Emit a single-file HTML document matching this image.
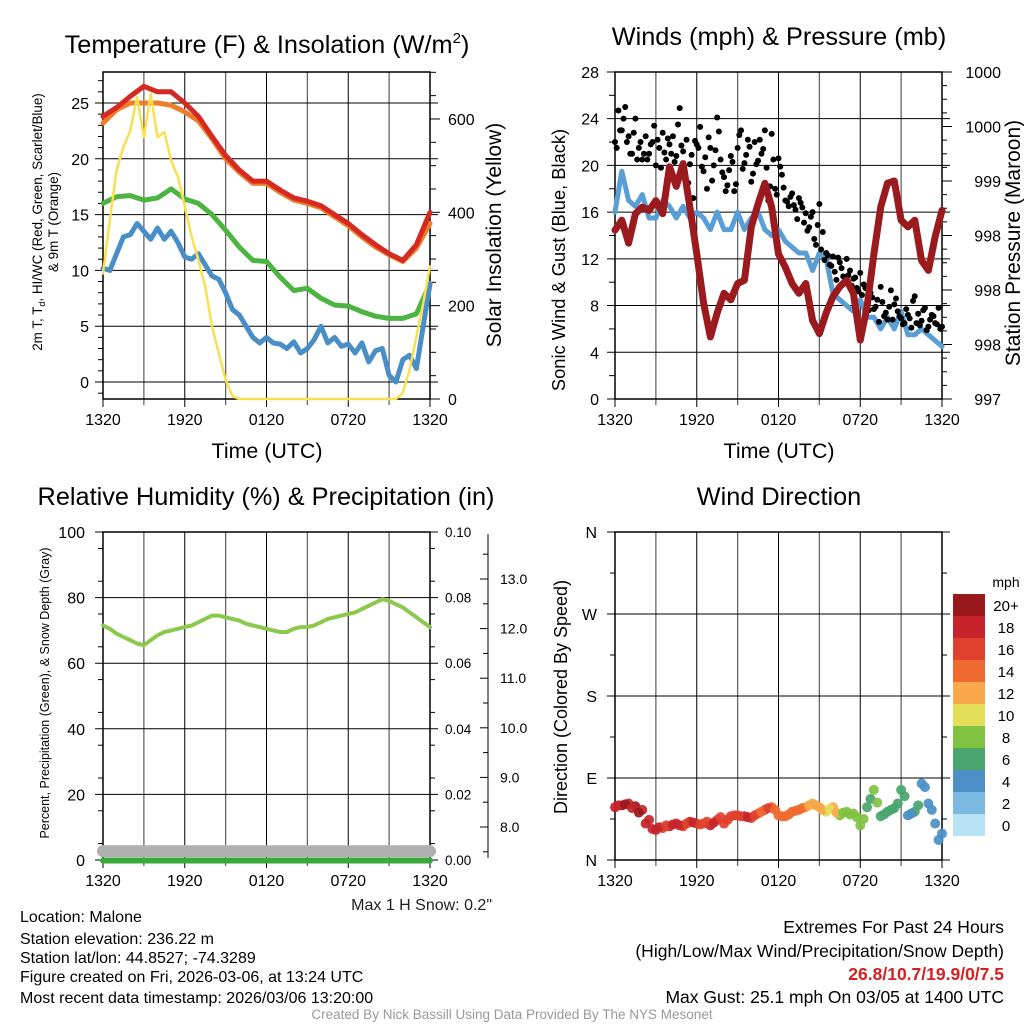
<!DOCTYPE html>
<html><head><meta charset="utf-8">
<style>
body{margin:0;background:#fff;}
svg{display:block;font-family:"Liberation Sans",Arial,sans-serif;}
</style></head>
<body>
<svg id="s" width="1024" height="1024" viewBox="0 0 1024 1024" xmlns="http://www.w3.org/2000/svg">
<rect width="1024" height="1024" fill="#fff"/>
<text x="267" y="53" font-size="25.3" text-anchor="middle">Temperature (F) &amp; Insolation (W/m<tspan font-size="15" dy="-10">2</tspan><tspan dy="10">)</tspan></text>
<text x="779" y="45" font-size="25.3" text-anchor="middle">Winds (mph) &amp; Pressure (mb)</text>
<text x="266" y="505" font-size="25.3" text-anchor="middle">Relative Humidity (%) &amp; Precipitation (in)</text>
<text x="779" y="505" font-size="25.3" text-anchor="middle">Wind Direction</text>

<text transform="translate(42,222) rotate(-90)" font-size="13.4" text-anchor="middle">2m T, T<tspan font-size="9" dy="3">d</tspan><tspan dy="-3">, HI/WC (Red, Green, Scarlet/Blue)</tspan></text>
<text transform="translate(58,222) rotate(-90)" font-size="13.4" text-anchor="middle">&amp; 9m T (Orange)</text>
<text transform="translate(501,235) rotate(-90)" font-size="21" text-anchor="middle">Solar Insolation (Yellow)</text>
<text transform="translate(565,260) rotate(-90)" font-size="18.3" text-anchor="middle">Sonic Wind &amp; Gust (Blue, Black)</text>
<text transform="translate(1020,243) rotate(-90)" font-size="21" text-anchor="middle">Station Pressure (Maroon)</text>
<text transform="translate(49,693) rotate(-90)" font-size="12.5" text-anchor="middle">Percent, Precipitation (Green), &amp; Snow Depth (Gray)</text>
<text transform="translate(567,697) rotate(-90)" font-size="18" text-anchor="middle">Direction (Colored By Speed)</text>
<text x="267" y="458" font-size="21.4" text-anchor="middle">Time (UTC)</text>
<text x="779" y="458" font-size="21.4" text-anchor="middle">Time (UTC)</text>
<text x="492" y="910" font-size="16" text-anchor="end" fill="#222">Max 1 H Snow: 0.2"</text>

<g font-size="16">
<text x="20" y="922">Location: Malone</text>
<text x="20" y="944">Station elevation: 236.22 m</text>
<text x="20" y="963">Station lat/lon: 44.8527; -74.3289</text>
<text x="20" y="982">Figure created on Fri, 2026-03-06, at 13:24 UTC</text>
<text x="20" y="1003">Most recent data timestamp: 2026/03/06 13:20:00</text>
</g>
<g font-size="17.5" text-anchor="end">
<text x="1004" y="933">Extremes For Past 24 Hours</text>
<text x="1004" y="957">(High/Low/Max Wind/Precipitation/Snow Depth)</text>
<text x="1004" y="980" fill="#d42020" font-weight="bold" font-size="17.5">26.8/10.7/19.9/0/7.5</text>
<text x="1004" y="1003">Max Gust: 25.1 mph On 03/05 at 1400 UTC</text>
</g>
<text x="512" y="1019" font-size="13.5" fill="#999" text-anchor="middle">Created By Nick Bassill Using Data Provided By The NYS Mesonet</text>
<g id="g"></g>
</svg>
<script>
// ---- data (hours since 1320 UTC) ----
const xTickLabels=["1320","1920","0120","0720","1320"];
const tempRed=[23.8,24.6,25.6,26.5,26.0,26.0,25.0,23.8,22.0,20.3,19.0,18.0,18.0,17.2,16.5,16.2,15.8,15.0,14.2,13.2,12.3,11.5,10.9,12.3,15.2];
const tempOrange=[23.2,24.4,25.0,25.0,25.0,24.8,24.2,23.4,21.8,20.0,18.8,17.8,17.8,17.0,16.3,16.0,15.6,14.8,14.0,13.0,12.1,11.4,10.8,12.0,14.2];
const dewGreen=[16.0,16.6,16.7,16.3,16.5,17.3,16.4,16.0,15.0,13.6,12.1,10.9,10.8,9.4,8.2,8.4,7.5,6.9,6.8,6.3,5.9,5.7,5.7,6.1,8.8];
const chillBlue=[10.2,10.0,11.5,13.0,13.2,14.2,13.5,12.8,13.8,12.8,13.5,12.5,11.2,11.0,11.5,10.5,9.5,9.2,8.0,6.5,6.0,5.0,4.0,3.5,4.0,3.5,3.4,3.0,3.6,2.6,3.0,3.8,5.0,3.5,4.0,3.2,3.4,2.6,3.5,1.8,2.8,3.0,0.6,0.0,2.0,2.4,1.2,5.0,8.8];
const insolation=[269,383,490,540,575,647,561,654,561,572,511,476,412,348,298,241,155,98,41,6,0,0,0,0,0,0,0,0,0,0,0,0,0,0,0,0,0,0,0,0,0,0,0,0,13,63,134,205,284];
const tempTicks=[0,5,10,15,20,25];
const insTicks=[0,200,400,600];
const windBlue=[16,19.5,17,16.5,17.5,15.5,15.5,17,16.5,15.5,16.5,15.5,16,15.5,14.5,16,14.5,14.5,16,14.5,15.5,16,14.5,14,14.5,13.5,13,12.5,12.5,11,12.5,12,9,8.5,8,7.5,8.5,7,7,6,7,6,7.5,5.5,5.5,6,5.5,5,4.5];
const gusts=[22,24.7,23,25,22.5,21,24,21.5,20.5,22.5,21,22,20,21.5,22.8,20.5,21.8,22.5,20.8,24.9,21.2,22.2,20.1,17.2,21.8,23.3,19.5,18,21.5,20,24.1,20.5,19,18.3,20.8,17.8,21.5,23,20.2,22.2,18.6,22,20.4,21,23,17,22.7,18,20.6,19.2,17,16.5,17.6,16.2,17.2,16.4,15.9,14.7,16,13.2,16.7,14.3,12.5,11.5,12.2,10.2,11.7,10.5,12,11,10.3,9.5,10.8,9.8,8.2,9.1,7.7,8.5,9.6,7.1,6.8,9.3,8.1,7.5,6.9,6.5,7.2,6.1,8.8,7.3,6.7,7.8,6.2,7.2,6.5,7.8,6.2];
const gusts2=[21.5,23,24,22,21,22.8,20.5,22,21,20.5,21.8,23.4,22.2,19.8,21.1,22.3,21,20.3,23.5,21.7,19.1,18.5,20.9,22.1,21.5,19.9,20.7,22.4,18.7,21.3,22.9,19.4,17.8,19.6,20.3,18.4,22.6,19.7,20.9,21.6,19.3,20.1,22.2,21.4,19.8,18.2,20.5,17.5,19.9,18.1,16.9,17.3,16.6,15.4,16.8,15.1,14.4,15.6,13.7,14.9,12.8,11.9,12.3,11.4,10.9,12.1,11.2,10.1,10.6,9.7,10.4,9.2,8.9,9.5,7.6,8.7,7.9,6.6,8.3,7.4,7.9,6.8,8.6,7.1,6.4,7.7,6.9,8.4,6.5,6.3,7.6,5.9,6.8,7.1,6.4,6.0];
const pressure=[998.55,998.64,998.43,998.70,998.76,998.73,998.82,998.70,999.13,998.95,999.16,998.76,998.33,997.88,997.57,997.79,997.97,997.91,998.06,998.09,998.58,998.79,998.98,998.76,998.33,998.21,998.06,997.97,998.06,997.72,997.60,997.79,997.94,998.03,998.09,997.97,997.54,997.85,998.33,998.76,998.98,999.0,998.64,998.58,998.64,998.27,998.18,998.49,998.73];
const windTicks=[0,4,8,12,16,20,24,28];
const presTickLabels=["997","998","998","998","999","1000","1000"];
const rh=[71.5,70.5,69,68,67,66,65.5,67,68.5,69.5,70,70.5,71,71.5,72.5,73.5,74.5,74.5,74,73.5,73,72,71.5,71,70.5,70,69.5,69.5,70.5,71,71,71.5,72.5,73.5,74,74.5,75,75.5,76.5,77.5,78.5,79.5,79,78,77,75.5,74,72.5,71];
const precip=[0,0,0,0,0,0,0,0,0,0,0,0,0,0,0,0,0,0,0,0,0,0,0,0,0];
const snowDepth=[2.7];
const rhTicks=[0,20,40,60,80,100];
const precipTickLabels=["0.00","0.02","0.04","0.06","0.08","0.10"];
const snowTickLabels=["8.0","9.0","10.0","11.0","12.0","13.0"];
const dirA=[58,60,62,59,55,44,33,35,37,40,37,42,40,40,38,44,40,48,49,48,46,51,55,58,49,48,53,55,58,62,58,53,58,49,53,51,38,58,77,48,53,57,77,49,53,84,62,40,29];
const dirB=[60,61,57,52,40,34,36,38,39,38,40,41,39,42,41,47,44,49,48,47,49,53,57,55,48,50,54,57,60,60,55,56,52,52,50,47,45,67,63,50,55,62,70,51,60,80,55,22];
const dirSpeed=[19,20,19,20,18,19,18,17,19,18,17,18,17,16,18,17,16,17,16,18,16,15,16,15,14,15,14,15,13,12,12,10,12,9,8,9,8,7,8,6,7,6,6,5,6,4,5,4,4];
const dirLabels=["N","E","S","W","N"];
const cbLabels=["0","2","4","6","8","10","12","14","16","18","20+"];
const cbColors=["#b8e3f7","#7cb9e2","#4a8fc6","#48a56e","#7fc242","#e4de58","#f8a84a","#ef6a30","#e0412e","#c6242a","#99191d"];

const NS="http://www.w3.org/2000/svg";
const G=document.getElementById('g');
function mk(tag,attrs,parent){const e=document.createElementNS(NS,tag);for(const k in attrs)e.setAttribute(k,attrs[k]);(parent||G).appendChild(e);return e;}
function txt(x,y,s,size,anchor,parent){const t=mk('text',{x:x,y:y,'font-size':size,'text-anchor':anchor||'middle'},parent);t.textContent=s;return t;}

function panelFrame(x0,x1,y0,y1,name){
  const g=mk('g',{});
  
  
  for(let i=0;i<=8;i++){const x=x0+(x1-x0)*i/8;
    mk('line',{x1:x,y1:y0,x2:x,y2:y1+(i%2==0?8:6),stroke:i%2?'#666':'#000','stroke-width':i%2?1.3:1},g);}
  xTickLabels.forEach((s,i)=>{const t=txt(x0+(x1-x0)*i/4,y1+26,s,16,'middle',g);
    
    });
  return g;
}
function hline(g,x0,x1,y){mk('line',{x1:x0-8,y1:y,x2:x1+8,y2:y,stroke:'#000','stroke-width':1},g);}
function path(pts,color,w,name,parent){const d=pts.map((p,i)=>(i?'L':'M')+p[0].toFixed(1)+','+p[1].toFixed(1)).join('');
  const e=mk('path',{d:d,fill:'none',stroke:color,'stroke-width':w,'stroke-linejoin':'round','stroke-linecap':'round'},parent);
  
  return e;}

// ---------- Panel 1 ----------
(function(){
 const x0=103,x1=430,y0=72,y1=399;
 const X=h=>x0+(x1-x0)*h/24, Y=v=>382-v*11.16, YI=w=>399-w*0.4667;
 const g=panelFrame(x0,x1,y0,y1,'temperature-panel');
 tempTicks.forEach(v=>{hline(g,x0,x1,Y(v));const t=txt(x0-14,Y(v)+6,String(v),16,'end',g);
   
   });
 for(let v=-1;v<=27;v++){if(v%5)mk('line',{x1:x0-5,y1:Y(v),x2:x0,y2:Y(v),stroke:'#000'},g);}
 insTicks.forEach(w=>{mk('line',{x1:x1,y1:YI(w),x2:x1+10,y2:YI(w),stroke:'#000'},g);const t=txt(x1+18,YI(w)+6,String(w),16,'start',g);
   
   });
 for(let w=50;w<=700;w+=50){if(w%200)mk('line',{x1:x1,y1:YI(w),x2:x1+6,y2:YI(w),stroke:'#000'},g);}
 mk('rect',{x:x0,y:y0,width:x1-x0,height:y1-y0,fill:'none',stroke:'#000','stroke-width':1.5},g);
 path(tempOrange.map((v,i)=>[X(i),Y(v)]),'#f07c2a',5,'series-9m-temp-orange',g);
 path(tempRed.map((v,i)=>[X(i),Y(v)]),'#d42a22',5,'series-2m-temp-red',g);
 path(dewGreen.map((v,i)=>[X(i),Y(v)]),'#4cb440',5,'series-dewpoint-green',g);
 path(chillBlue.map((v,i)=>[X(i/2),Y(v)]),'#4a8ec8',5,'series-windchill-blue',g);
 path(insolation.map((v,i)=>[X(i/2),YI(v)]),'#f8e050',2.5,'series-insolation-yellow',g);
})();

// ---------- Panel 2 ----------
(function(){
 const x0=615,x1=942,y0=72,y1=399;
 const X=h=>x0+(x1-x0)*h/24, Y=v=>399-v*11.68, YP=p=>399-(p-997)*109;
 const g=panelFrame(x0,x1,y0,y1,'winds-panel');
 windTicks.forEach(v=>{hline(g,x0,x1,Y(v));const t=txt(x0-16,Y(v)+6,String(v),16,'end',g);
   
   });
 for(let v=2;v<28;v+=4)mk('line',{x1:x0-6,y1:Y(v),x2:x0,y2:Y(v),stroke:'#000'},g);
 presTickLabels.forEach((s,i)=>{const y=YP(997+i*0.5);mk('line',{x1:x1,y1:y,x2:x1+10,y2:y,stroke:'#000'},g);
   const t=txt(x1+59,y+6,s,16,'end',g);
   
   });
 for(let p=997.125;p<1000;p+=0.125){mk('line',{x1:x1,y1:YP(p),x2:x1+5,y2:YP(p),stroke:'#000'},g);}
 mk('rect',{x:x0,y:y0,width:x1-x0,height:y1-y0,fill:'none',stroke:'#000','stroke-width':1.5},g);
 path(windBlue.map((v,i)=>[X(i/2),Y(v)]),'#5a9ed6',5,'series-wind-blue',g);
 gusts.forEach((v,i)=>{const c=mk('circle',{cx:X(i/4),cy:Y(v),r:3,fill:'#000'},g);
   
   });
 gusts2.forEach((v,i)=>{const c=mk('circle',{cx:X(0.125+i/4),cy:Y(v),r:3,fill:'#000'},g);
   
   });
 path(pressure.map((v,i)=>[X(i/2),YP(v)]),'#9a1a1e',7,'series-pressure-maroon',g);
})();

// ---------- Panel 3 ----------
(function(){
 const x0=103,x1=430,y0=532,y1=860;
 const X=h=>x0+(x1-x0)*h/24, Y=v=>860-v*3.28;
 const g=panelFrame(x0,x1,y0,y1,'humidity-panel');
 rhTicks.forEach((v,i)=>{hline(g,x0,x1,Y(v));const t=txt(x0-18,Y(v)+6,String(v),16,'end',g);
   
   
   const t2=txt(x1+15,Y(v)+5,precipTickLabels[i],13.5,'start',g);
   
   });
 for(let v=5;v<100;v+=10){mk('line',{x1:x0-5,y1:Y(v),x2:x0,y2:Y(v),stroke:'#000'},g);mk('line',{x1:x1,y1:Y(v),x2:x1+5,y2:Y(v),stroke:'#000'},g);}
 mk('line',{x1:488,y1:534,x2:488,y2:858,stroke:'#000'},g);
 snowTickLabels.forEach((s,i)=>{const y=827-i*49.6;mk('line',{x1:480,y1:y,x2:488,y2:y,stroke:'#000'},g);
   const t=txt(500,y+5,s,14,'start',g);
   
   });
 for(let i=-1;i<6;i++){const y=827-i*49.6-24.8;if(y>534&&y<858)mk('line',{x1:483,y1:y,x2:488,y2:y,stroke:'#000'},g);}
 mk('rect',{x:x0,y:y0,width:x1-x0,height:y1-y0,fill:'none',stroke:'#000','stroke-width':1.5},g);
 for(let i=0;i<=96;i++){const c=mk('circle',{cx:X(i/4),cy:Y(snowDepth[0]),r:6,fill:'#b0b0b0'},g);
   
   }
 path(precip.map((v,i)=>[X(i),Y(v)+0.5]),'#3aa83a',6,'series-precip-green',g);
 path(rh.map((v,i)=>[X(i/2),Y(v)]),'#8cc84c',4,'series-rh-green',g);
})();

// ---------- Panel 4 ----------
(function(){
 const x0=615,x1=942,y0=532,y1=860;
 const X=h=>x0+(x1-x0)*h/24, Y=d=>860-d*0.911;
 const g=panelFrame(x0,x1,y0,y1,'direction-panel');
 dirLabels.forEach((s,i)=>{const y=Y(i*90);hline(g,x0,x1,y);const t=txt(x0-18,y+6,s,16,'end',g);
   
   });
 for(let d=45;d<360;d+=90){mk('line',{x1:x0-5,y1:Y(d),x2:x0,y2:Y(d),stroke:'#000'},g);mk('line',{x1:x1,y1:Y(d),x2:x1+5,y2:Y(d),stroke:'#000'},g);}
 mk('rect',{x:x0,y:y0,width:x1-x0,height:y1-y0,fill:'none',stroke:'#000','stroke-width':1.5},g);
 const col=s=>cbColors[Math.min(10,Math.floor(s/2))];
 dirA.forEach((d,i)=>{const c=mk('circle',{cx:X(i/2),cy:Y(d),r:5,fill:col(dirSpeed[i]),'fill-opacity':0.92},g);
   
   });
 dirB.forEach((d,i)=>{const c=mk('circle',{cx:X(0.25+i/2),cy:Y(d),r:5,fill:col(dirSpeed[i]),'fill-opacity':0.92},g);
   
   });
 const cb=mk('g',{});
 
 
 txt(1006,587,'mph',14,'middle',cb);
 cbLabels.forEach((s,i)=>{const y=814-i*22;mk('rect',{x:953,y:y,width:32,height:22,fill:cbColors[i]},cb);
   const t=txt(1006,y+17,s,15,'middle',cb);
   
   });
})();
</script>
</body></html>
